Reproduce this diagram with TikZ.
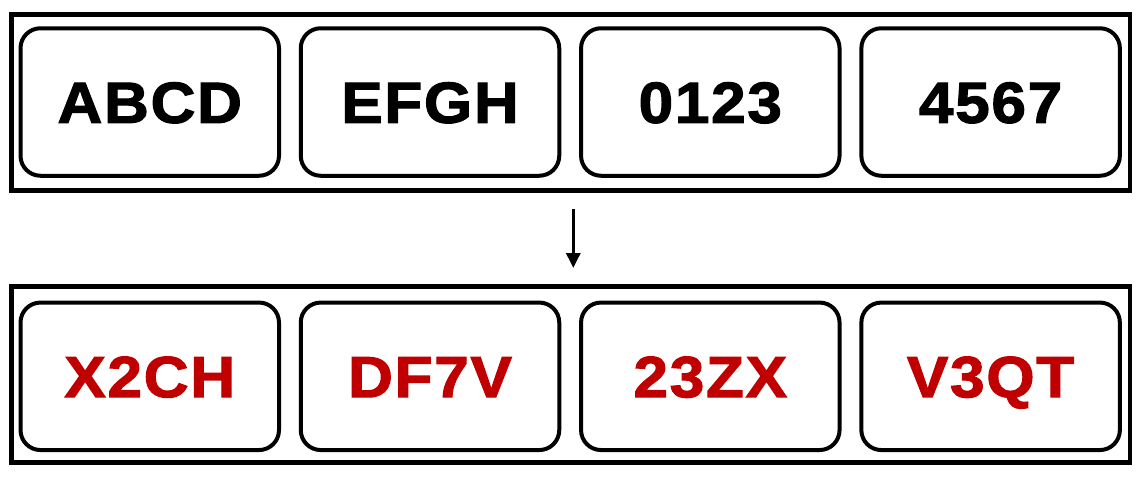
\documentclass[tikz,border=0pt]{standalone}
\usepackage{fontspec}
\setmainfont{Liberation Sans}
\newfontfamily\heavyfont[FakeStretch=1.07,FakeBold=2,LetterSpace=3]{Liberation Sans Bold}
\usetikzlibrary{arrows.meta}
\definecolor{myred}{HTML}{C00000}
\begin{document}
\begin{tikzpicture}[x=1pt,y=-1pt,
  outerbox/.style={draw=black, line width=4.6pt, minimum width=1118.5pt, minimum height=176pt, inner sep=0pt},
  cell/.style={draw=black, line width=4pt, rounded corners=20pt, minimum width=258.5pt, minimum height=147.5pt, inner sep=0pt, text height=41.6pt, text depth=0pt, font=\fontsize{58}{58}\heavyfont},
  redtxt/.style={text=myred}]
\useasboundingbox (0,0) rectangle (1147,482);
\node[outerbox] (top) at (570.75,102.25) {};
\node[outerbox] (bot) at (570.75,374.75) {};
\node[cell] (a1) at (149.75,102) {ABCD};
\node[cell] (a2) at (430,102) {EFGH};
\node[cell] (a3) at (710.3,102) {0123};
\node[cell] (a4) at (990.6,102) {4567};
\node[cell,redtxt] (b1) at (149.75,376.3) {X2CH};
\node[cell,redtxt] (b2) at (430,376.3) {DF7V};
\node[cell,redtxt] (b3) at (710.3,376.3) {23ZX};
\node[cell,redtxt] (b4) at (990.6,376.3) {V3QT};
\coordinate (s) at (573.3,209);
\coordinate (e) at (573.3,268);
\draw[line width=3pt, -{Triangle[width=14pt,length=15pt]}] (s) -- (e);
\end{tikzpicture}
\end{document}
